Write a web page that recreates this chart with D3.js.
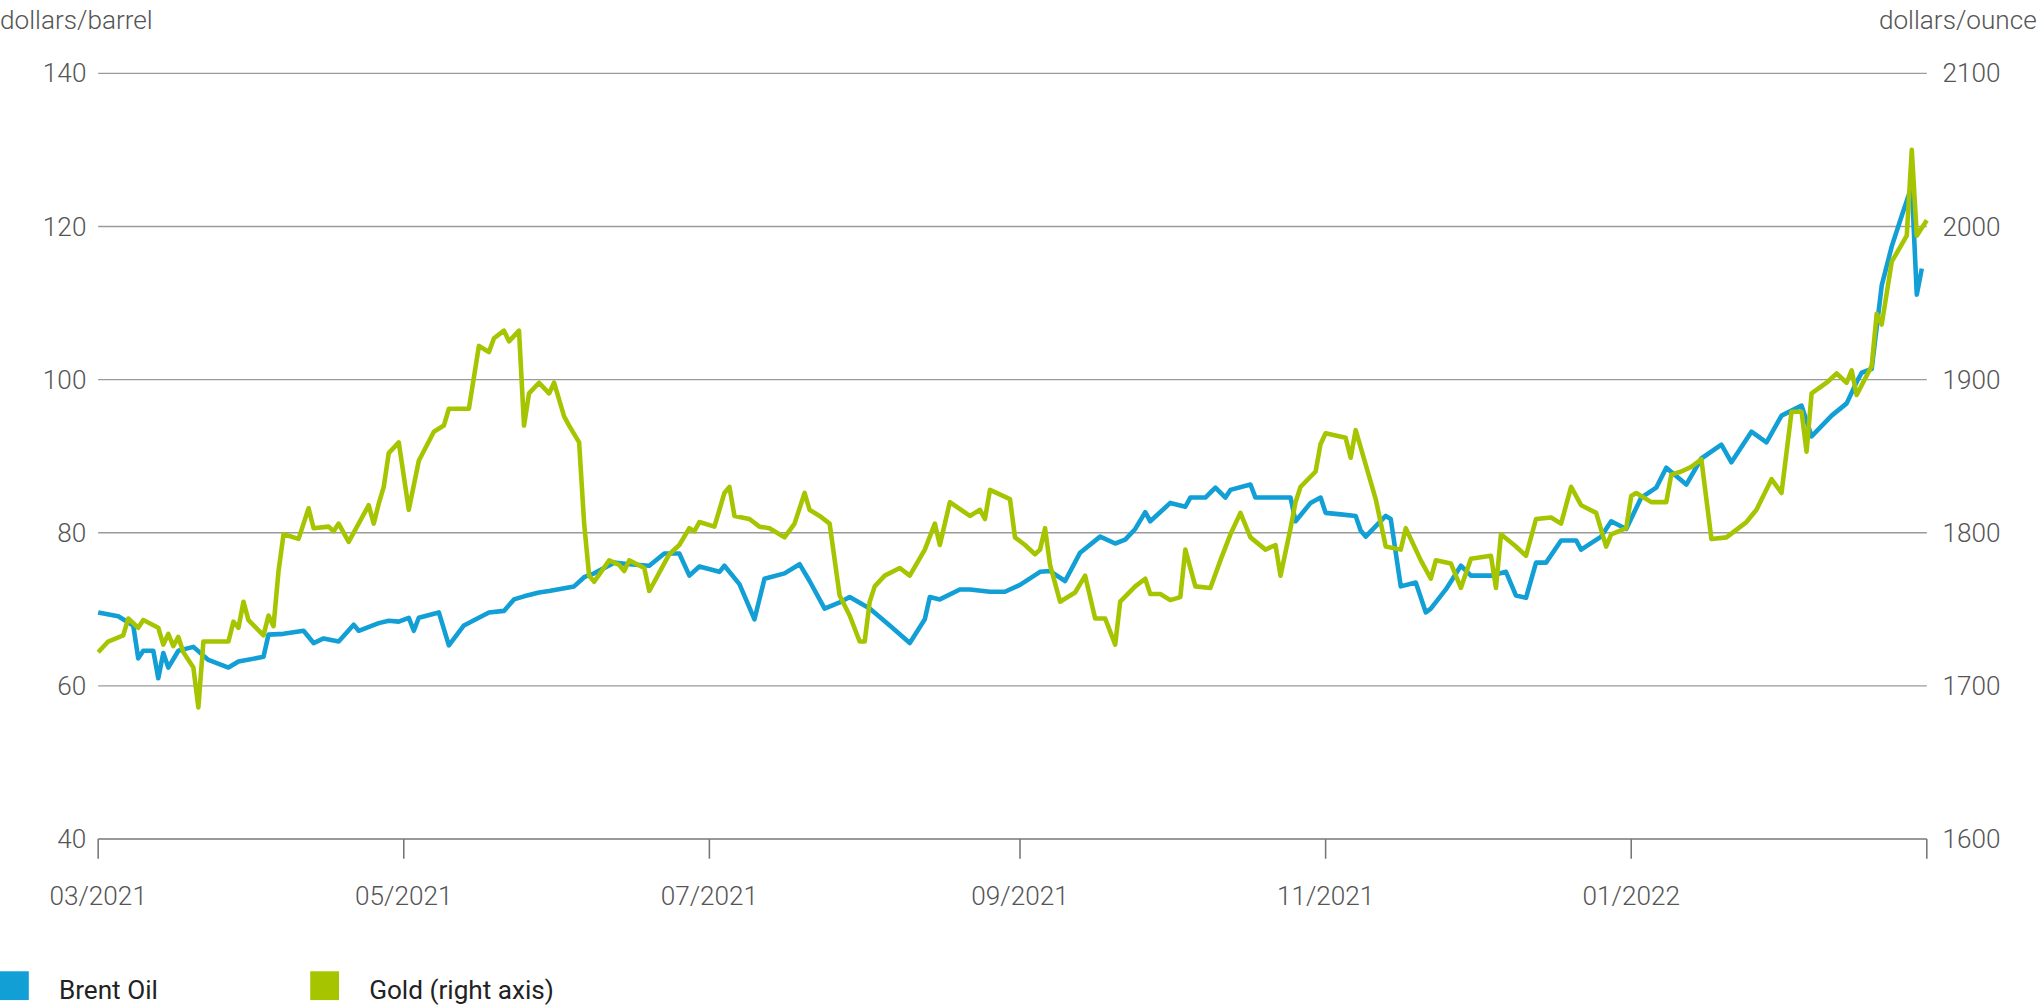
<!DOCTYPE html>
<html><head><meta charset="utf-8">
<script src="https://cdn.jsdelivr.net/npm/d3@7"></script>
<style>body{margin:0;background:#fff}svg{font-family:Roboto,"Noto Sans",sans-serif;display:block}</style>
</head><body><svg id="c" width="2042" height="1006" viewBox="0 0 1560 768.5"></svg>
<script>
// days since 2021-03-01
const oilDays=[0,4,7,8,9,11,12,13,14,16,19,22,26,28,33,34,37,41,43,45,48,51,52,56,58,60,62,63,64,68,70,73,78,81,83,85,88,90,95,97,99,103,106,110,113,116,118,120,124,125,128,131,133,137,140,142,145,148,150,154,158,162,165,166,168,172,174,178,181,184,188,190,193,196,200,203,205,207,209,210,214,217,218,221,223,225,226,230,231,235,238,239,242,244,245,248,251,252,253,257,258,260,263,265,266,269,272,274,278,281,283,285,287,289,292,295,296,300,302,305,308,311,313,317,320,324,326,330,333,336,340,342,346,349,351,352,354,356,358,360,362,363,364];
const oilValues=[69.6,69.1,67.9,63.6,64.6,64.6,61,64.3,62.4,64.6,65.1,63.4,62.4,63.2,63.8,66.7,66.8,67.2,65.6,66.2,65.8,68,67.2,68.2,68.5,68.4,68.9,67.2,68.9,69.6,65.3,67.9,69.6,69.8,71.3,71.7,72.2,72.4,73,74.2,74.7,76.1,75.9,75.7,77.3,77.3,74.4,75.6,74.9,75.7,73.3,68.7,74,74.7,75.9,73.7,70.1,70.9,71.6,70.1,67.9,65.6,68.7,71.6,71.3,72.6,72.6,72.3,72.3,73.2,74.9,75,73.7,77.4,79.5,78.6,79.1,80.5,82.7,81.5,83.9,83.4,84.6,84.6,85.9,84.6,85.6,86.3,84.6,84.6,84.6,81.5,83.9,84.6,82.6,82.4,82.2,80.3,79.5,82.2,81.8,73,73.5,69.6,70.1,72.6,75.7,74.4,74.4,74.9,71.8,71.5,76.1,76.1,79,79,77.8,79.5,81.5,80.5,84.6,85.9,88.5,86.3,89.7,91.5,89.2,93.2,91.8,95.3,96.6,92.6,95.3,96.9,99.7,100.9,101.4,112.3,117.4,121.4,125.3,111.1,114.5];
const goldDays=[0,2,5,6,8,9,12,13,14,15,16,17,19,20,21,26,27,28,29,30,33,34,35,36,37,40,42,43,46,47,48,50,54,55,56,57,58,60,62,64,67,69,70,72,74,76,78,79,81,82,84,85,86,88,90,91,93,94,96,97,98,99,102,104,105,106,109,110,112,114,116,118,119,120,123,125,126,127,130,132,134,137,139,141,142,144,146,148,150,152,153,154,155,157,160,162,165,167,168,170,174,176,177,178,182,183,185,187,188,189,190,192,195,197,199,201,203,204,207,209,210,212,214,216,217,219,222,224,226,228,230,233,235,236,238,239,240,243,244,245,249,250,251,255,257,260,261,264,266,267,270,272,274,278,279,280,283,285,287,290,292,294,296,299,301,302,305,306,307,310,313,314,316,318,320,322,325,329,331,334,336,338,340,341,342,345,347,349,350,351,354,355,356,358,361,362,363,365];
const goldValues=[1722,1729,1733,1744,1738,1743,1738,1727,1734,1726,1732,1722,1712,1686,1729,1729,1742,1738,1755,1743,1733,1746,1739,1775,1799,1796,1816,1803,1804,1801,1806,1794,1818,1806,1819,1830,1852,1859,1815,1847,1866,1870,1881,1881,1881,1922,1918,1927,1932,1925,1932,1870,1891,1898,1891,1898,1876,1870,1859,1806,1772,1768,1782,1779,1775,1782,1777,1762,1774,1786,1792,1803,1801,1807,1804,1826,1830,1811,1809,1804,1803,1797,1806,1826,1815,1811,1806,1759,1746,1729,1729,1755,1765,1772,1777,1772,1789,1806,1792,1820,1811,1815,1809,1828,1822,1797,1792,1786,1789,1803,1779,1755,1761,1772,1744,1744,1727,1755,1765,1770,1760,1760,1756,1758,1789,1765,1764,1782,1799,1813,1797,1789,1792,1772,1803,1820,1830,1840,1858,1865,1862,1849,1867,1822,1791,1789,1803,1782,1770,1782,1780,1764,1783,1785,1764,1799,1791,1785,1809,1810,1806,1830,1818,1813,1791,1799,1803,1824,1826,1820,1820,1838,1840,1843,1848,1796,1797,1807,1815,1835,1826,1879,1879,1853,1891,1898,1904,1898,1906,1890,1909,1943,1936,1977,1994,2050,1994,2004];
const leftTicks=[40,60,80,100,120,140];
const rightTicks=[1600,1700,1800,1900,2000,2100];
const monthTicks=["2021-03-01","2021-05-01","2021-07-01","2021-09-01","2021-11-01","2022-01-01"];
const seriesNames=["Brent Oil","Gold (right axis)"];
const colors=["#119fd6","#a6c500"];

const start=new Date(2021,2,1);
const dt=d=>d3.timeDay.offset(start,d);
const svg=d3.select("#c");
const x=d3.scaleTime().domain([start,new Date(2022,2,1)]).range([75,1472]);
const yL=d3.scaleLinear().domain([40,140]).range([641,56]);
const yR=d3.scaleLinear().domain([1600,2100]).range([641,56]);
const fs=20, tc="#555";
svg.selectAll("line.g").data(leftTicks.slice(1)).join("line").attr("x1",75).attr("x2",1472)
 .attr("y1",d=>yL(d)).attr("y2",d=>yL(d)).attr("stroke","#9a9a9a").attr("stroke-width",1);
svg.append("line").attr("x1",75).attr("x2",1472).attr("y1",641).attr("y2",641).attr("stroke","#777").attr("stroke-width",1.2);
svg.selectAll("text.l").data(leftTicks).join("text").attr("x",66).attr("y",d=>yL(d)+7).attr("text-anchor","end")
 .attr("font-size",fs).attr("fill",tc).attr("font-weight",300).text(d=>d);
svg.selectAll("text.r").data(rightTicks).join("text").attr("x",1484).attr("y",d=>yR(d)+7)
 .attr("font-size",fs).attr("fill",tc).attr("font-weight",300).text(d=>d);
const mt=monthTicks.map(s=>new Date(s+"T00:00"));
svg.selectAll("line.t").data(mt).join("line").attr("x1",d=>x(d)).attr("x2",d=>x(d)).attr("y1",641).attr("y2",656).attr("stroke","#777").attr("stroke-width",1.2);
svg.append("line").attr("x1",1472).attr("x2",1472).attr("y1",641).attr("y2",656).attr("stroke","#777").attr("stroke-width",1.2);
svg.selectAll("text.m").data(mt).join("text").attr("x",d=>x(d)).attr("y",691).attr("text-anchor","middle")
 .attr("font-size",fs).attr("fill",tc).attr("font-weight",300).text(d3.timeFormat("%m/%Y"));
svg.append("text").attr("x",0).attr("y",22).attr("font-size",fs).attr("fill",tc).attr("font-weight",300).text("dollars/barrel");
svg.append("text").attr("x",1556).attr("y",22).attr("text-anchor","end").attr("font-size",fs).attr("fill",tc).attr("font-weight",300).text("dollars/ounce");
const line=(ys)=>d3.line().x(d=>x(dt(d[0]))).y(d=>ys(d[1]));
svg.append("path").datum(oilDays.map((d,i)=>[d,oilValues[i]])).attr("d",line(yL)).attr("fill","none").attr("stroke",colors[0]).attr("stroke-width",3.5).attr("stroke-linejoin","round");
svg.append("path").datum(goldDays.map((d,i)=>[d,goldValues[i]])).attr("d",line(yR)).attr("fill","none").attr("stroke",colors[1]).attr("stroke-width",3.5).attr("stroke-linejoin","round");
const lx=[0,237];
seriesNames.forEach((n,i)=>{
 svg.append("rect").attr("x",lx[i]).attr("y",742).attr("width",22).attr("height",22).attr("fill",colors[i]);
 svg.append("text").attr("x",lx[i]+45).attr("y",763).attr("font-size",fs).attr("fill","#222").attr("font-weight",400).text(n);
});
</script></body></html>
